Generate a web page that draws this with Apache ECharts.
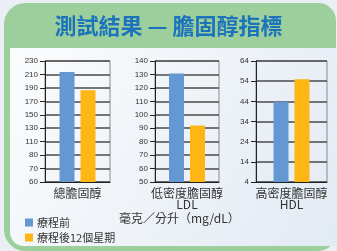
<!DOCTYPE html>
<html><head><meta charset="utf-8">
<script src="https://cdn.jsdelivr.net/npm/echarts@6/dist/echarts.min.js"></script>
<style>html,body{margin:0;padding:0;background:#e9eff5;}#c{width:337px;height:251px;}</style>
</head><body><div id="c"></div>
<script>
const titleText = '測試結果 — 膽固醇指標';
const unitText = '毫克／分升（mg/dL）';
const seriesNames = ['療程前', '療程後12個星期'];
const categories = ['總膽固醇', '低密度膽固醇\nLDL', '高密度膽固醇\nHDL'];
const beforeValues = [213.5, 130.7, 43.8];
const afterValues = [186.5, 92, 55];
const tickLabels1 = ['60', '70', '80', '110', '130', '150', '170', '190', '210', '230'];
const tickLabels2 = ['50', '60', '70', '80', '90', '100', '110', '120', '130', '140'];
const tickLabels3 = ['4', '14', '24', '34', '44', '54', '64'];
const axisRanges = [[50, 230, 20], [50, 140, 10], [4, 64, 10]];
const tickLabelSets = [tickLabels1, tickLabels2, tickLabels3];
const colors = ['#6398d2', '#fdb614'];

const cjk = '"Noto Sans CJK TC","Noto Sans CJK SC",sans-serif';
const num = '"Liberation Sans",Arial,sans-serif';
const grids = [
  {left: 45, width: 65, top: 61, height: 121},
  {left: 155, width: 64, top: 61, height: 121},
  {left: 256, width: 71, top: 61, height: 121}
];
const chart = echarts.init(document.getElementById('c'));
const xAxes = [], yAxes = [], series = [];
grids.forEach((g, i) => {
  xAxes.push({
    gridIndex: i, type: 'category', data: [categories[i]],
    axisLine: {lineStyle: {color: '#222', width: 1}},
    axisTick: {show: false},
    axisLabel: {color: '#333', fontSize: 12, fontFamily: cjk, lineHeight: 11, margin: 6}
  });
  const [mn, mx, iv] = axisRanges[i];
  const labels = tickLabelSets[i];
  yAxes.push({
    gridIndex: i, type: 'value', min: mn, max: mx, interval: iv,
    axisLine: {show: true, lineStyle: {color: '#222', width: 1}},
    axisTick: {show: true, length: 5, lineStyle: {color: '#222'}},
    axisLabel: {color: '#333', fontSize: 8, fontFamily: num, margin: 7,
      formatter: v => labels[Math.round((v - mn) / iv)]},
    splitLine: {show: true, lineStyle: {color: '#4a4a4a', width: 1.5}}
  });
  series.push({name: seriesNames[0], type: 'bar', xAxisIndex: i, yAxisIndex: i,
    data: [beforeValues[i]], barWidth: 15, barGap: '40%', itemStyle: {color: colors[0]}});
  series.push({name: seriesNames[1], type: 'bar', xAxisIndex: i, yAxisIndex: i,
    data: [afterValues[i]], barWidth: 15, barGap: '40%', itemStyle: {color: colors[1]}});
});

chart.setOption({
  animation: false,
  grid: grids.map(g => Object.assign({show: true, borderColor: '#8a8a8a', borderWidth: 1, backgroundColor: 'transparent'}, g)),
  graphic: [
    {type: 'rect', z: -10, shape: {x: 5.5, y: 4.5, width: 329, height: 245, r: [20, 16, 16, 20]},
      style: {fill: '#9ccf9c', stroke: '#9ccf9c', lineWidth: 3}},
    {type: 'rect', z: -9, shape: {x: 10, y: 48, width: 327, height: 198, r: [0, 0, 0, 14]},
      style: {fill: new echarts.graphic.LinearGradient(0, 0, 1, 1, [
        {offset: 0, color: '#fbfcfd'}, {offset: 1, color: '#e2eaf3'}])}},
    {type: 'text', z: 5, left: 119, top: 212, style: {text: unitText, fill: '#333', font: '12px ' + cjk}}
  ],
  title: {text: titleText, left: 'center', top: 15, padding: 0,
    textStyle: {color: '#1b74bb', fontSize: 22, fontWeight: 'bold', fontFamily: cjk}},
  legend: {data: seriesNames, orient: 'vertical', left: 25, top: 217, padding: 0, itemWidth: 8, itemHeight: 8, itemGap: 4,
    icon: 'rect', textStyle: {color: '#333', fontSize: 11, fontFamily: cjk, padding: [0, 0, 0, -1]}},
  xAxis: xAxes, yAxis: yAxes, series: series
});
</script></body></html>
